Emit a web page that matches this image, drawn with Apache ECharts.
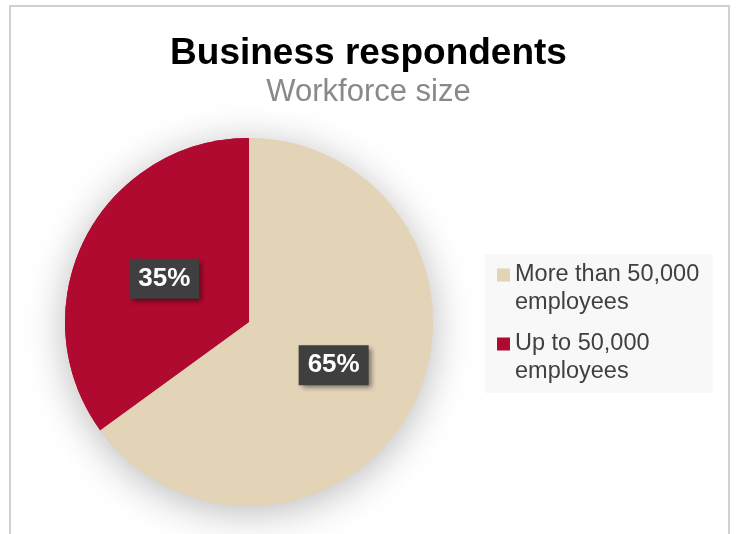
<!DOCTYPE html>
<html>
<head>
<meta charset="utf-8">
<script src="https://cdn.jsdelivr.net/npm/echarts@6/dist/echarts.min.js"></script>
<style>
  html, body { margin: 0; padding: 0; background: #ffffff; }
  #chart { width: 737px; height: 534px; }
</style>
</head>
<body>
<div id="chart"></div>
<script>
// Workforce size of business respondents (share of respondents, %)
const categories = ['More than 50,000\nemployees', 'Up to 50,000\nemployees'];
const shares = [65, 35];
const sliceColors = ['#e3d4b8', '#b10a30'];

const titleText = 'Business respondents';
const subtitleText = 'Workforce size';

const FONT = '"Liberation Sans", Arial, Helvetica, sans-serif';

const pieData = categories.map((name, i) => ({
  name: name,
  value: shares[i],
  itemStyle: { color: sliceColors[i] }
}));

const chart = echarts.init(document.getElementById('chart'), null, { renderer: 'canvas' });

chart.setOption({
  animation: false,
  backgroundColor: '#ffffff',
  title: {
    text: titleText,
    subtext: subtitleText,
    left: 'center',
    top: 35,
    itemGap: 5,
    padding: 0,
    textStyle: {
      fontFamily: FONT,
      fontSize: 37,
      fontWeight: 'bold',
      color: '#000000',
      lineHeight: 37
    },
    subtextStyle: {
      fontFamily: FONT,
      fontSize: 31,
      color: '#898989',
      lineHeight: 31
    }
  },
  graphic: [
    {
      type: 'rect',
      z: -10,
      silent: true,
      shape: { x: 10, y: 6, width: 719, height: 560 },
      style: { fill: 'none', stroke: '#d0d0d0', lineWidth: 2 }
    },
    {
      type: 'rect',
      z: -5,
      silent: true,
      shape: { x: 485, y: 254, width: 228, height: 139 },
      style: { fill: '#f8f8f8' }
    }
  ],
  legend: {
    orient: 'vertical',
    left: 497,
    top: 233,
    padding: 0,
    itemGap: -15,
    itemWidth: 13,
    itemHeight: 13,
    icon: 'rect',
    selectedMode: false,
    data: categories,
    // a blank leading line puts the swatch beside the first line of each label
    formatter: name => '\n' + name,
    textStyle: {
      fontFamily: FONT,
      fontSize: 23.5,
      lineHeight: 28,
      color: '#404040'
    }
  },
  series: [
    {
      // visible slices
      type: 'pie',
      z: 3,
      center: [249, 322],
      radius: 184,
      startAngle: 90,
      clockwise: true,
      silent: true,
      data: pieData,
      itemStyle: { borderWidth: 0 },
      label: {
        show: true,
        position: 'inside',
        formatter: '{c}%',
        fontFamily: FONT,
        fontSize: 26,
        fontWeight: 'bold',
        color: '#ffffff',
        lineHeight: 26,
        backgroundColor: '#3f3f3f',
        padding: [7, 9, 7, 9],
        shadowColor: 'rgba(0,0,0,0.45)',
        shadowBlur: 5,
        shadowOffsetX: 3,
        shadowOffsetY: 3
      },
      labelLine: { show: false }
    },
    {
      // soft drop shadow behind the disc
      type: 'pie',
      z: 1,
      center: [249, 322],
      radius: 184,
      startAngle: 90,
      silent: true,
      data: pieData,
      label: { show: false },
      labelLine: { show: false },
      itemStyle: {
        borderWidth: 0,
        shadowColor: 'rgba(0,0,0,0.28)',
        shadowBlur: 40,
        shadowOffsetY: 6
      }
    }
  ]
});
</script>
</body>
</html>
